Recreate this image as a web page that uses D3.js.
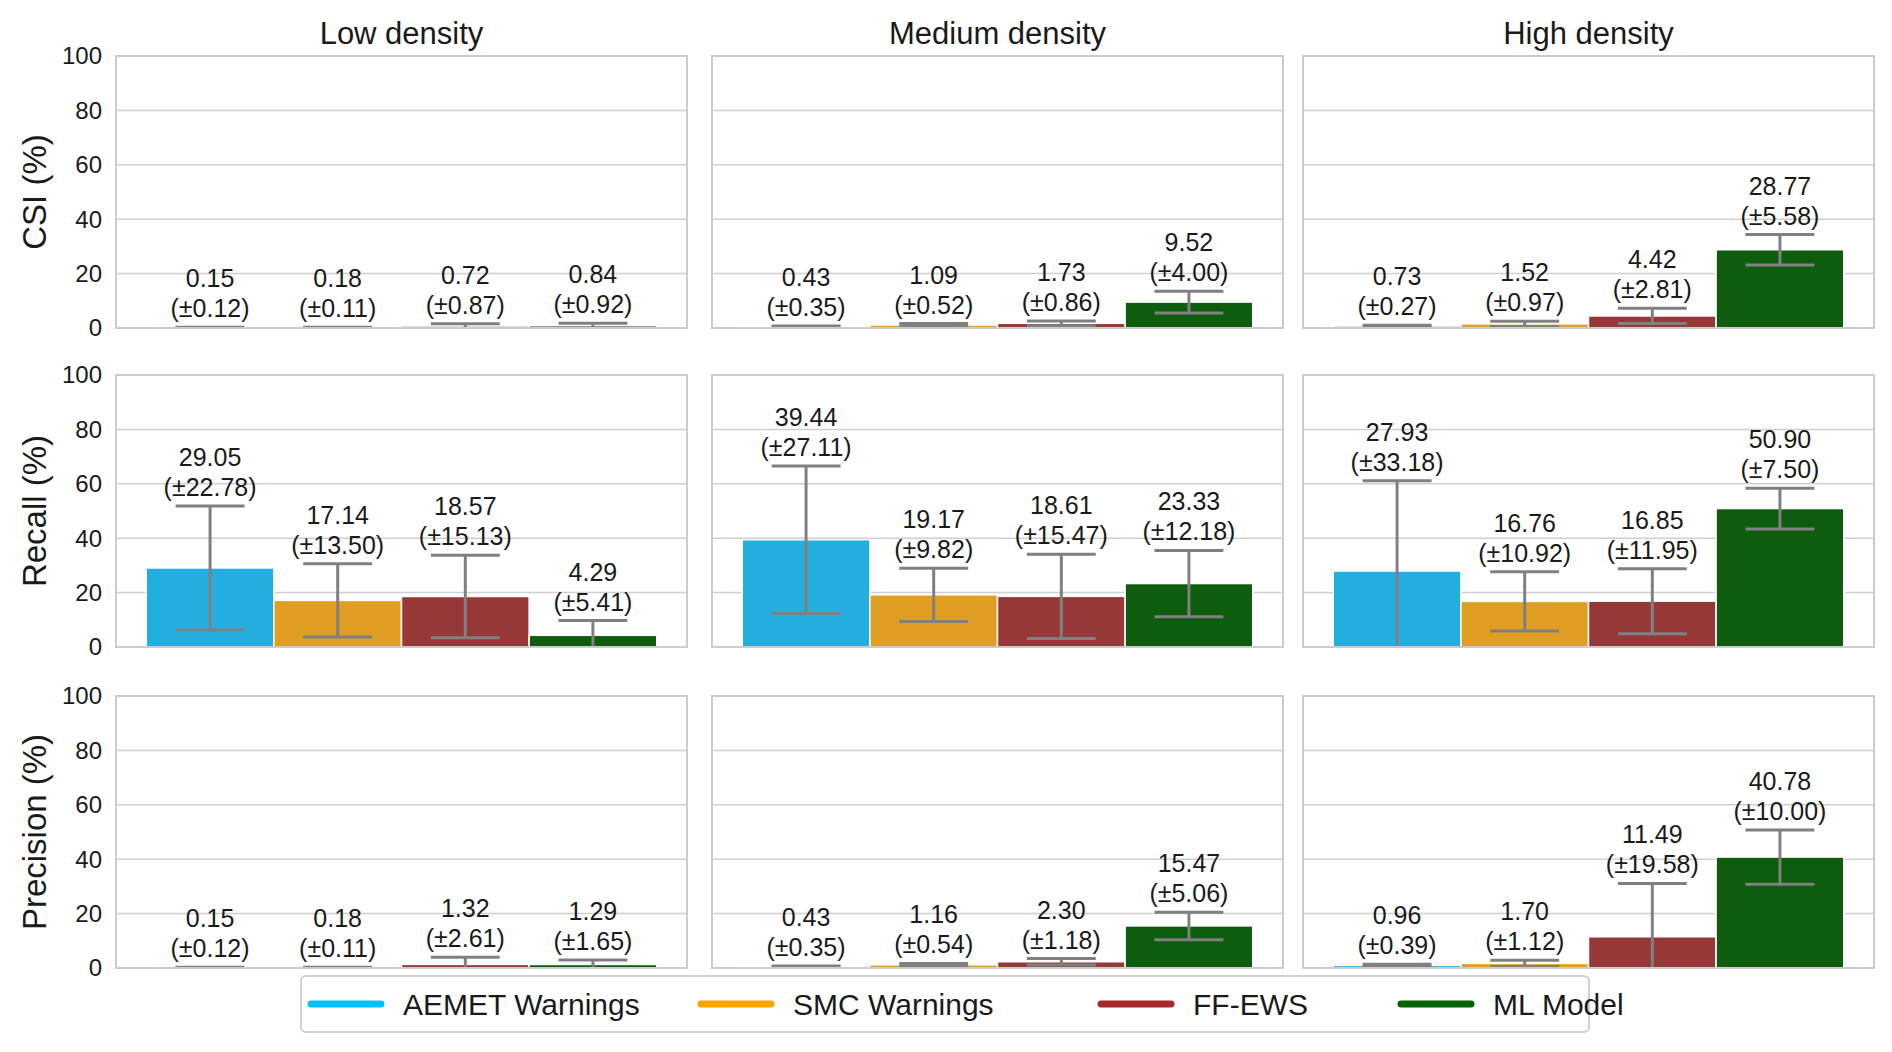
<!DOCTYPE html>
<html><head><meta charset="utf-8">
<style>body{margin:0;background:#fff;font-family:Arial,"Liberation Sans",sans-serif}</style>
</head><body>
<svg width="1892" height="1052"></svg>
<script src="https://d3js.org/d3.v7.min.js"></script>
<script>
var densities = ["Low density", "Medium density", "High density"];
var metrics = ["CSI (%)", "Recall (%)", "Precision (%)"];
var systems = ["AEMET Warnings", "SMC Warnings", "FF-EWS", "ML Model"];
var yTicks = [0, 20, 40, 60, 80, 100];
// mean[metric][density][system]
var means = [
  [[0.15, 0.18, 0.72, 0.84], [0.43, 1.09, 1.73, 9.52], [0.73, 1.52, 4.42, 28.77]],
  [[29.05, 17.14, 18.57, 4.29], [39.44, 19.17, 18.61, 23.33], [27.93, 16.76, 16.85, 50.90]],
  [[0.15, 0.18, 1.32, 1.29], [0.43, 1.16, 2.30, 15.47], [0.96, 1.70, 11.49, 40.78]]
];
var sds = [
  [[0.12, 0.11, 0.87, 0.92], [0.35, 0.52, 0.86, 4.00], [0.27, 0.97, 2.81, 5.58]],
  [[22.78, 13.50, 15.13, 5.41], [27.11, 9.82, 15.47, 12.18], [33.18, 10.92, 11.95, 7.50]],
  [[0.12, 0.11, 2.61, 1.65], [0.35, 0.54, 1.18, 5.06], [0.39, 1.12, 19.58, 10.00]]
];
var barColors = ["#22afe0", "#e09f22", "#963838", "#0e5c0e"];
var lineColors = ["#00bfff", "#ffa500", "#a52a2a", "#006400"];

var svg = d3.select("svg");
var colX = [116, 712, 1303], colW = 571;
var rowY = [56, 375, 696], rowH = 272;

var y = d3.scaleLinear().domain([0, 100]).range([rowH, 0]);

metrics.forEach(function (m, r) {
  densities.forEach(function (dn, c) {
    var g = svg.append("g").attr("transform", "translate(" + colX[c] + "," + rowY[r] + ")");
    var x = d3.scaleBand().domain(systems).range([colW * 0.053, colW * 0.947]).padding(0);
    var clipId = "clip" + r + c;
    g.append("clipPath").attr("id", clipId).append("rect").attr("width", colW).attr("height", rowH);
    g.selectAll(".grid").data(yTicks).enter().append("line")
      .attr("x1", 0).attr("x2", colW).attr("y1", y).attr("y2", y)
      .attr("stroke", "#d0d0d0").attr("stroke-width", 1.5);
    var data = systems.map(function (s, i) { return {s: s, i: i, v: means[r][c][i], sd: sds[r][c][i]}; });
    var inner = g.append("g").attr("clip-path", "url(#" + clipId + ")");
    inner.selectAll("rect.bar").data(data).enter().append("rect")
      .attr("x", function (d) { return x(d.s); })
      .attr("width", x.bandwidth())
      .attr("y", function (d) { return y(d.v); })
      .attr("height", function (d) { return rowH - y(d.v); })
      .attr("fill", function (d) { return barColors[d.i]; })
      .attr("stroke", "#fff").attr("stroke-width", 1.5);
    var cx = function (d) { return x(d.s) + x.bandwidth() / 2; };
    var cap = x.bandwidth() * 0.27;
    var eb = inner.selectAll("g.eb").data(data).enter().append("g").attr("stroke", "#808080").attr("stroke-width", 3);
    eb.append("line").attr("x1", cx).attr("x2", cx)
      .attr("y1", function (d) { return y(d.v - d.sd); }).attr("y2", function (d) { return y(d.v + d.sd); });
    eb.append("line").attr("x1", function (d) { return cx(d) - cap; }).attr("x2", function (d) { return cx(d) + cap; })
      .attr("y1", function (d) { return y(d.v + d.sd); }).attr("y2", function (d) { return y(d.v + d.sd); });
    eb.append("line").attr("x1", function (d) { return cx(d) - cap; }).attr("x2", function (d) { return cx(d) + cap; })
      .attr("y1", function (d) { return y(d.v - d.sd); }).attr("y2", function (d) { return y(d.v - d.sd); });
    var lab = g.selectAll("text.lab").data(data).enter().append("text")
      .attr("text-anchor", "middle").attr("font-size", 25).attr("fill", "#1a1a1a");
    lab.append("tspan").attr("x", cx).attr("y", function (d) { return y(d.v + d.sd) - 40; })
      .text(function (d) { return d.v.toFixed(2); });
    lab.append("tspan").attr("x", cx).attr("y", function (d) { return y(d.v + d.sd) - 10; })
      .text(function (d) { return "(\u00b1" + d.sd.toFixed(2) + ")"; });
    g.append("rect").attr("width", colW).attr("height", rowH).attr("fill", "none")
      .attr("stroke", "#cccccc").attr("stroke-width", 2);
    if (c === 0) {
      g.selectAll("text.tick").data(yTicks).enter().append("text")
        .attr("x", -14).attr("y", y).attr("dy", "0.35em").attr("text-anchor", "end")
        .attr("font-size", 24).attr("fill", "#1a1a1a").text(function (d) { return d; });
      g.append("text").attr("transform", "translate(-70," + rowH / 2 + ") rotate(-90)")
        .attr("text-anchor", "middle").attr("font-size", 33).attr("fill", "#1a1a1a").text(m);
    }
    if (r === 0) {
      g.append("text").attr("x", colW / 2).attr("y", -12).attr("text-anchor", "middle")
        .attr("font-size", 31).attr("fill", "#1a1a1a").text(dn);
    }
  });
});

// legend
var lg = svg.append("g").attr("transform", "translate(301,976)");
lg.append("rect").attr("width", 1288).attr("height", 56).attr("rx", 5)
  .attr("fill", "#fff").attr("fill-opacity", 0.85).attr("stroke", "#d0d0d0").attr("stroke-width", 2);
var legX = [10, 400, 800, 1100];
systems.forEach(function (s, i) {
  var it = lg.append("g").attr("transform", "translate(" + legX[i] + ",28)");
  it.append("line").attr("x1", 0).attr("x2", 70).attr("stroke", lineColors[i])
    .attr("stroke-width", 7).attr("stroke-linecap", "round");
  it.append("text").attr("x", 92).attr("dy", "0.35em").attr("font-size", 30).attr("fill", "#1a1a1a").text(s);
});
</script>
</body></html>
